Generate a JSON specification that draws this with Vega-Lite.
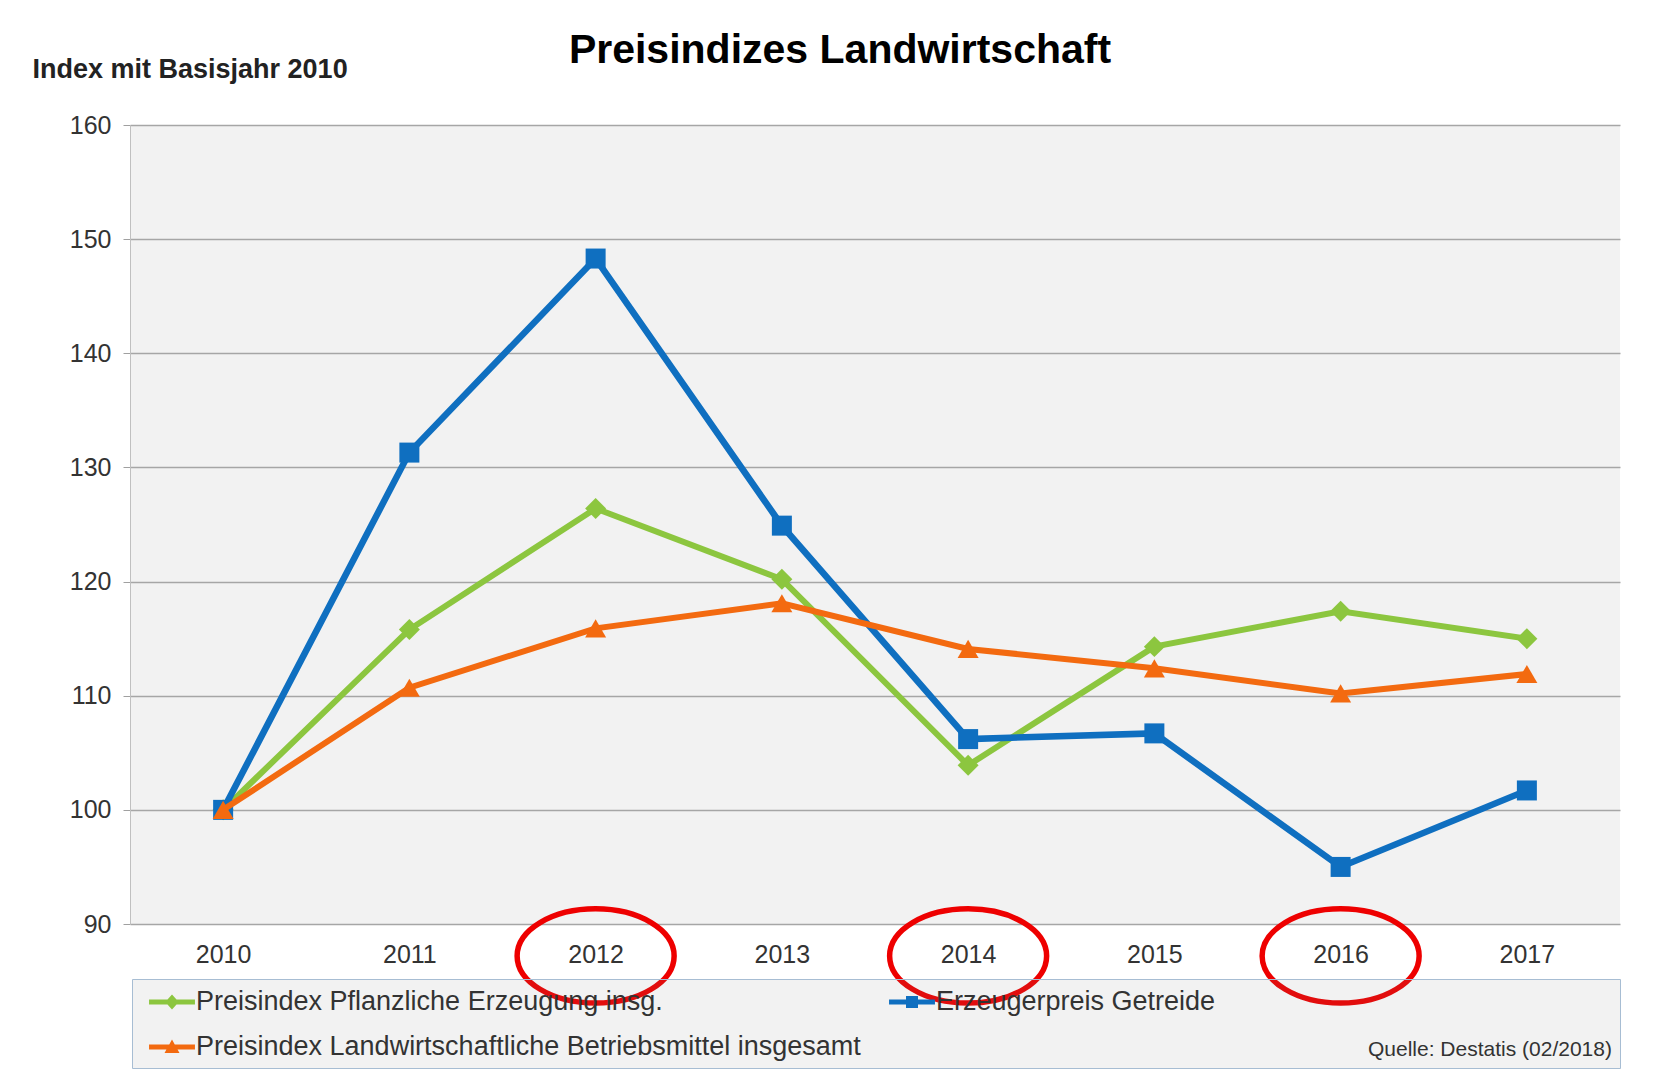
{
  "$schema": "https://vega.github.io/schema/vega-lite/v6.json",
  "autosize": {"type": "none"},
  "width": 1490,
  "height": 799,
  "padding": {"left": 130, "top": 125, "right": 53, "bottom": 147},
  "background": "white",
  "title": {
    "text": "Preisindizes Landwirtschaft",
    "font": "Liberation Sans",
    "fontSize": 41,
    "fontWeight": "bold",
    "color": "#000000",
    "anchor": "middle",
    "frame": "group",
    "dx": -35,
    "baseline": "alphabetic",
    "offset": -49
  },
  "config": {
    "font": "Liberation Sans",
    "view": {"fill": "#f2f2f2", "stroke": null}
  },
  "data": {
    "values": [
      {"series": "Preisindex Pflanzliche Erzeugung insg.", "year": 2010, "value": 100},
      {"series": "Preisindex Pflanzliche Erzeugung insg.", "year": 2011, "value": 115.8},
      {"series": "Preisindex Pflanzliche Erzeugung insg.", "year": 2012, "value": 126.4},
      {"series": "Preisindex Pflanzliche Erzeugung insg.", "year": 2013, "value": 120.2},
      {"series": "Preisindex Pflanzliche Erzeugung insg.", "year": 2014, "value": 103.9},
      {"series": "Preisindex Pflanzliche Erzeugung insg.", "year": 2015, "value": 114.3},
      {"series": "Preisindex Pflanzliche Erzeugung insg.", "year": 2016, "value": 117.4},
      {"series": "Preisindex Pflanzliche Erzeugung insg.", "year": 2017, "value": 115.0},
      {"series": "Erzeugerpreis Getreide", "year": 2010, "value": 100},
      {"series": "Erzeugerpreis Getreide", "year": 2011, "value": 131.3},
      {"series": "Erzeugerpreis Getreide", "year": 2012, "value": 148.3},
      {"series": "Erzeugerpreis Getreide", "year": 2013, "value": 124.9},
      {"series": "Erzeugerpreis Getreide", "year": 2014, "value": 106.2},
      {"series": "Erzeugerpreis Getreide", "year": 2015, "value": 106.7},
      {"series": "Erzeugerpreis Getreide", "year": 2016, "value": 95.0},
      {"series": "Erzeugerpreis Getreide", "year": 2017, "value": 101.7},
      {"series": "Preisindex Landwirtschaftliche Betriebsmittel insgesamt", "year": 2010, "value": 100},
      {"series": "Preisindex Landwirtschaftliche Betriebsmittel insgesamt", "year": 2011, "value": 110.7},
      {"series": "Preisindex Landwirtschaftliche Betriebsmittel insgesamt", "year": 2012, "value": 115.9},
      {"series": "Preisindex Landwirtschaftliche Betriebsmittel insgesamt", "year": 2013, "value": 118.1},
      {"series": "Preisindex Landwirtschaftliche Betriebsmittel insgesamt", "year": 2014, "value": 114.1},
      {"series": "Preisindex Landwirtschaftliche Betriebsmittel insgesamt", "year": 2015, "value": 112.4},
      {"series": "Preisindex Landwirtschaftliche Betriebsmittel insgesamt", "year": 2016, "value": 110.2},
      {"series": "Preisindex Landwirtschaftliche Betriebsmittel insgesamt", "year": 2017, "value": 111.9}
    ]
  },
  "encoding": {
    "x": {
      "field": "year",
      "type": "ordinal",
      "scale": {"type": "point", "padding": 0.5},
      "axis": {
        "title": null,
        "labelAngle": 0,
        "domain": false,
        "ticks": false,
        "tickSize": 0,
        "grid": false,
        "labelFontSize": 25,
        "labelColor": "#333333",
        "labelPadding": 18
      }
    },
    "y": {
      "field": "value",
      "type": "quantitative",
      "scale": {"domain": [90, 160], "nice": false, "zero": false},
      "axis": {
        "values": [90, 100, 110, 120, 130, 140, 150, 160],
        "title": "Index mit Basisjahr 2010",
        "titleAngle": 0,
        "titleAlign": "left",
        "titleBaseline": "alphabetic",
        "titleX": -98,
        "titleY": -48,
        "titleFontSize": 27,
        "titleFontWeight": "bold",
        "titleColor": "#222222",
        "labelFontSize": 25,
        "labelColor": "#333333",
        "labelPadding": 12,
        "tickSize": 7,
        "tickColor": "#a0a0a0",
        "domain": true,
        "domainColor": "#c0c0c0",
        "gridColor": "#a6a6a6",
        "gridWidth": 1.5
      }
    }
  },
  "layer": [
    {
      "transform": [{"filter": "datum.series == 'Preisindex Pflanzliche Erzeugung insg.'"}],
      "mark": {
        "type": "line",
        "color": "#8CC63F",
        "strokeWidth": 6,
        "point": {"shape": "diamond", "size": 440, "filled": true, "color": "#8CC63F"}
      }
    },
    {
      "transform": [{"filter": "datum.series == 'Erzeugerpreis Getreide'"}],
      "mark": {
        "type": "line",
        "color": "#0F6FC0",
        "strokeWidth": 6.5,
        "point": {"shape": "square", "size": 400, "filled": true, "color": "#0F6FC0"}
      }
    },
    {
      "transform": [{"filter": "datum.series == 'Preisindex Landwirtschaftliche Betriebsmittel insgesamt'"}],
      "mark": {
        "type": "line",
        "color": "#F36A10",
        "strokeWidth": 6,
        "point": {"shape": "triangle-up", "size": 440, "filled": true, "color": "#F36A10"}
      }
    },
    {
      "transform": [{"filter": "datum.value < 0"}],
      "mark": {"type": "point", "filled": true, "opacity": 1, "strokeWidth": 0},
      "encoding": {
        "color": {
          "field": "series",
          "type": "nominal",
          "scale": {
            "domain": ["Preisindex Pflanzliche Erzeugung insg.", "Erzeugerpreis Getreide", "Preisindex Landwirtschaftliche Betriebsmittel insgesamt"],
            "range": ["#8CC63F", "#0F6FC0", "#F36A10"]
          },
          "legend": {
            "orient": "none",
            "legendX": 2,
            "legendY": 854,
            "direction": "horizontal",
            "columns": 2,
            "columnPadding": 19,
            "rowPadding": 17,
            "padding": 8,
            "fillColor": "rgba(125,125,125,0.1)",
            "strokeColor": "#a7bdd3",
            "symbolSize": 900,
            "symbolOffset": 17,
            "symbolStrokeWidth": 0,
            "labelOffset": 9,
            "labelFontSize": 27,
            "labelColor": "#333333",
            "labelLimit": 1000,
            "title": "Quelle: Destatis (02/2018)",
            "titleOrient": "right",
            "titleAnchor": "end",
            "titleFontSize": 21,
            "titleFontWeight": "normal",
            "titleColor": "#333333",
            "titlePadding": 153,
            "titleBaseline": "bottom",
            "titleLimit": 1000
          }
        },
        "shape": {
          "field": "series",
          "type": "nominal",
          "scale": {
            "domain": ["Preisindex Pflanzliche Erzeugung insg.", "Erzeugerpreis Getreide", "Preisindex Landwirtschaftliche Betriebsmittel insgesamt"],
            "range": [
              "M-1.53,-0.17H1.53V0.17H-1.53Z M0,-0.5L0.45,0L0,0.5L-0.45,0Z",
              "M-1.53,-0.17H1.53V0.17H-1.53Z M-0.4,-0.4H0.4V0.4H-0.4Z",
              "M-1.53,-0.17H1.53V0.17H-1.53Z M0,-0.5L0.5,0.4L-0.5,0.4Z"
            ]
          },
          "legend": {
            "orient": "none",
            "legendX": 2,
            "legendY": 854,
            "direction": "horizontal",
            "columns": 2,
            "columnPadding": 19,
            "rowPadding": 17,
            "padding": 8,
            "fillColor": "rgba(125,125,125,0.1)",
            "strokeColor": "#a7bdd3",
            "symbolSize": 900,
            "symbolOffset": 17,
            "symbolStrokeWidth": 0,
            "labelOffset": 9,
            "labelFontSize": 27,
            "labelColor": "#333333",
            "labelLimit": 1000,
            "title": "Quelle: Destatis (02/2018)",
            "titleOrient": "right",
            "titleAnchor": "end",
            "titleFontSize": 21,
            "titleFontWeight": "normal",
            "titleColor": "#333333",
            "titlePadding": 153,
            "titleBaseline": "bottom",
            "titleLimit": 1000
          }
        }
      }
    },
    {
      "data": {
        "values": [
          {"year": 2012, "value": 87.2},
          {"year": 2014, "value": 87.2},
          {"year": 2016, "value": 87.2}
        ]
      },
      "mark": {
        "type": "point",
        "shape": "M-1,0C-1,-0.3314,-0.5523,-0.6,0,-0.6C0.5523,-0.6,1,-0.3314,1,0C1,0.3314,0.5523,0.6,0,0.6C-0.5523,0.6,-1,0.3314,-1,0Z",
        "size": 24649,
        "filled": false,
        "stroke": "#EE0000",
        "strokeWidth": 5.5,
        "opacity": 1,
        "clip": false
      }
    }
  ]
}
